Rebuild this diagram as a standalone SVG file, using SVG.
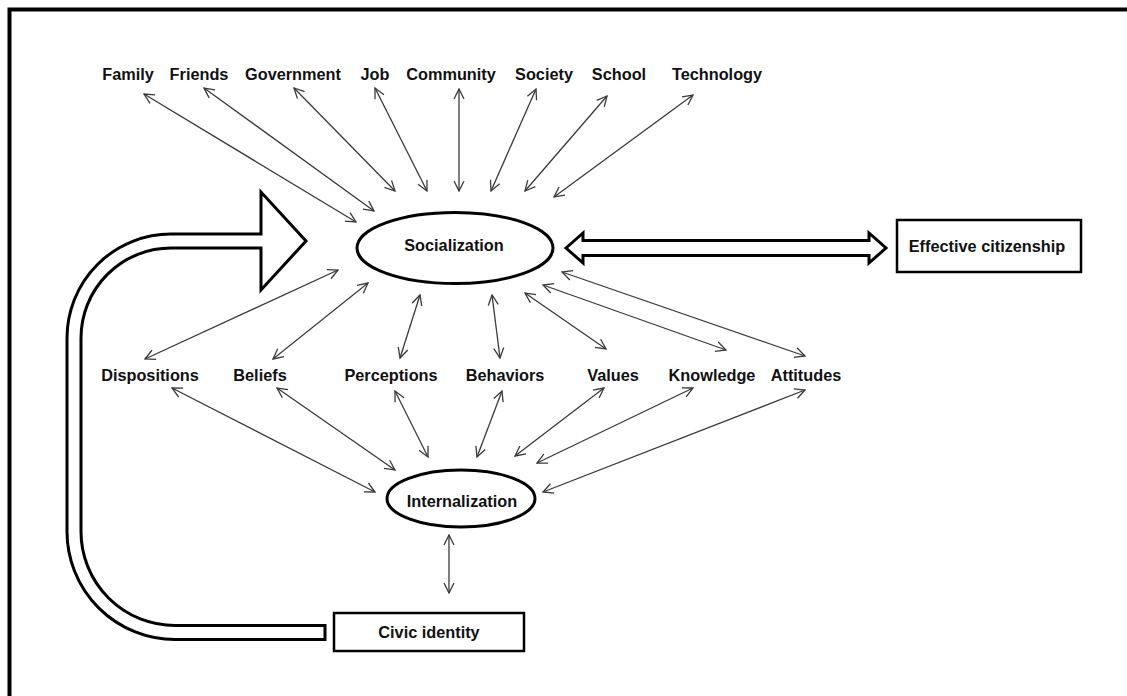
<svg xmlns="http://www.w3.org/2000/svg" width="1127" height="696" viewBox="0 0 1127 696">
<defs>
<marker id="ah" viewBox="0 0 12 12" refX="11" refY="6" markerWidth="12" markerHeight="12" markerUnits="userSpaceOnUse" orient="auto-start-reverse">
<path d="M1,1 L11,6 L1,11" fill="none" stroke="#3a3a3a" stroke-width="1.3"/>
</marker>
<style>
text{font-family:"Liberation Sans",Arial,sans-serif;font-weight:bold;font-size:16.3px;fill:#111;text-anchor:middle}
.c line{stroke:#3a3a3a;stroke-width:1.3;marker-start:url(#ah);marker-end:url(#ah)}
.thick{fill:#fff;stroke:#000;stroke-width:3}
</style>
</defs>
<rect width="1127" height="696" fill="#fff"/>
<rect x="9.5" y="9.5" width="1300" height="900" fill="none" stroke="#000" stroke-width="4"/>

<g id="connectors" class="c">
<line x1="144" y1="94" x2="356" y2="222"/>
<line x1="204" y1="88" x2="374" y2="211"/>
<line x1="294" y1="88" x2="395" y2="191"/>
<line x1="375" y1="88" x2="427" y2="191"/>
<line x1="459" y1="89" x2="459" y2="191"/>
<line x1="536" y1="89" x2="491" y2="191"/>
<line x1="607" y1="96" x2="525" y2="191"/>
<line x1="693" y1="95" x2="554" y2="197"/>

<line x1="338" y1="270" x2="145" y2="359"/>
<line x1="368" y1="283" x2="273" y2="359"/>
<line x1="420" y1="295" x2="400" y2="358"/>
<line x1="492" y1="295" x2="500" y2="358"/>
<line x1="525" y1="293" x2="606" y2="349"/>
<line x1="543" y1="285" x2="726" y2="350"/>
<line x1="562" y1="272" x2="805" y2="356"/>

<line x1="172" y1="388" x2="375" y2="492"/>
<line x1="277" y1="388" x2="395" y2="470"/>
<line x1="395" y1="391" x2="428" y2="457"/>
<line x1="502" y1="391" x2="477" y2="457"/>
<line x1="604" y1="388" x2="515" y2="456"/>
<line x1="693" y1="388" x2="537" y2="463"/>
<line x1="805" y1="390" x2="543" y2="492"/>

<line x1="449" y1="535" x2="449" y2="593"/>
</g>

<g id="loop-arrow">
<path class="thick" d="M325,625.5 H175 A94,94 0 0 1 81,531.5 V338 A90,90 0 0 1 171,248 H261 V290 L306,241 L261,192 V234 H171 A104,104 0 0 0 67,338 V531.5 A108,108 0 0 0 175,639.5 H325 Z"/>
</g>
<g id="citizenship-arrow">
<path class="thick" d="M566,248 L583,233 V240.5 H869 V233 L886,248 L869,263 V255.5 H583 V263 Z"/>
</g>

<g id="top-labels">
<text x="128" y="80">Family</text>
<text x="199" y="80">Friends</text>
<text x="293" y="80">Government</text>
<text x="375" y="80">Job</text>
<text x="451" y="80">Community</text>
<text x="544" y="80">Society</text>
<text x="619" y="80">School</text>
<text x="717" y="80">Technology</text>
</g>

<g id="socialization">
<ellipse cx="455" cy="248" rx="98" ry="35.5" fill="#fff" stroke="#000" stroke-width="3"/>
<text x="454" y="251">Socialization</text>
</g>

<g id="effective-citizenship">
<rect x="897" y="220" width="184" height="52" fill="#fff" stroke="#000" stroke-width="2.5"/>
<text x="987" y="252">Effective citizenship</text>
</g>

<g id="middle-labels">
<text x="150" y="381">Dispositions</text>
<text x="260" y="381">Beliefs</text>
<text x="391" y="381">Perceptions</text>
<text x="505" y="381">Behaviors</text>
<text x="613" y="381">Values</text>
<text x="712" y="381">Knowledge</text>
<text x="806" y="381">Attitudes</text>
</g>

<g id="internalization">
<ellipse cx="461" cy="498.5" rx="74" ry="28.5" fill="#fff" stroke="#000" stroke-width="3"/>
<text x="462" y="507">Internalization</text>
</g>

<g id="civic-identity">
<rect x="334" y="613" width="190" height="38" fill="#fff" stroke="#000" stroke-width="2.5"/>
<text x="429" y="638">Civic identity</text>
</g>
</svg>
